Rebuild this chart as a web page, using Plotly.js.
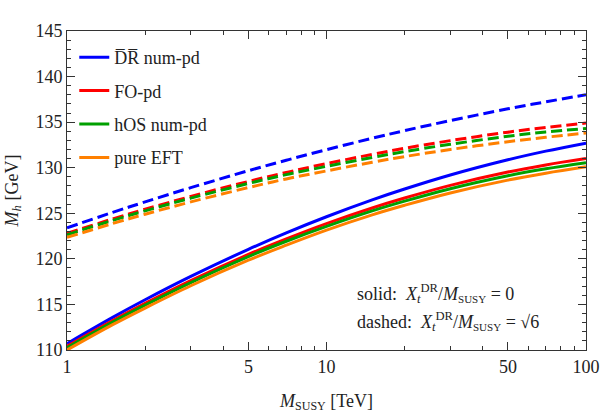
<!DOCTYPE html>
<html>
<head>
<meta charset="utf-8">
<script src="https://cdn.plot.ly/plotly-3.0.1.min.js"></script>
<style>html,body{margin:0;padding:0;background:#fff;}#chart{width:600px;height:417px;}</style>
</head>
<body>
<div id="chart"></div>
<script>
// M_SUSY in TeV
var msusy = [1, 1.5, 2, 3, 5, 7, 10, 15, 20, 30, 50, 70, 100];

// Solid: X_t/M_SUSY = 0
var drSolid  = [110.7, 113.58, 115.51, 118.07, 121.05, 122.85, 124.62, 126.47, 127.66, 129.2, 130.87, 131.82, 132.7];
var foSolid  = [110.4, 113.23, 115.11, 117.61, 120.48, 122.18, 123.86, 125.58, 126.67, 128.06, 129.52, 130.3, 131.0];
var hosSolid = [110.25, 113.06, 114.92, 117.4, 120.25, 121.93, 123.56, 125.26, 126.33, 127.7, 129.12, 129.88, 130.55];
var eftSolid = [110.0, 112.78, 114.6, 117.05, 119.85, 121.5, 123.15, 124.83, 125.88, 127.23, 128.64, 129.4, 130.1];

// Dashed: X_t/M_SUSY = sqrt(6)
var drDashed  = [123.4, 125.1, 126.25, 127.81, 129.67, 130.82, 131.98, 133.23, 134.07, 135.17, 136.46, 137.23, 138.0];
var foDashed  = [122.8, 124.38, 125.44, 126.85, 128.49, 129.48, 130.45, 131.46, 132.13, 132.97, 133.9, 134.42, 134.9];
var hosDashed = [122.65, 124.22, 125.27, 126.66, 128.27, 129.24, 130.15, 131.13, 131.77, 132.57, 133.45, 133.93, 134.3];
var eftDashed = [122.35, 123.88, 124.9, 126.25, 127.82, 128.77, 129.65, 130.6, 131.22, 132.0, 132.85, 133.34, 133.8];

var names = ["D\u0305R\u0305 num-pd", "FO-pd", "hOS num-pd", "pure EFT"];
var colors = ["#0000ff", "#ff0000", "#00a000", "#ff8000"];
var solids = [drSolid, foSolid, hosSolid, eftSolid];
var dashes = [drDashed, foDashed, hosDashed, eftDashed];

var xTickVals = [1, 5, 10, 50, 100];
var xTickText = ["1", "5", "10", "50", "100"];
var xMinor = [2, 3, 4, 6, 7, 8, 9, 20, 30, 40, 60, 70, 80, 90];

var font = "'Liberation Serif', 'DejaVu Serif', serif";
var traces = [];
for (var i = 0; i < 4; i++) {
  traces.push({
    x: msusy, y: dashes[i], type: "scatter", mode: "lines",
    line: {color: colors[i], width: 3, dash: "11px,5px", shape: "spline"},
    showlegend: false, hoverinfo: "skip"
  });
}
for (var i = 0; i < 4; i++) {
  traces.push({
    x: msusy, y: solids[i], type: "scatter", mode: "lines", name: names[i],
    legendgroup: "g" + i,
    line: {color: colors[i], width: 3, shape: "spline"}
  });
}

var axisCommon = {
  showline: true, linecolor: "#333", linewidth: 1, mirror: "ticks",
  ticks: "inside", ticklen: 8, tickcolor: "#333", showgrid: false, zeroline: false,
  tickfont: {family: font, size: 18, color: "#222"}
};

var layout = {
  width: 600, height: 417,
  margin: {l: 67, r: 14, t: 31, b: 67},
  paper_bgcolor: "#fff", plot_bgcolor: "#fff",
  font: {family: font, size: 18, color: "#222"},
  xaxis: Object.assign({}, axisCommon, {
    type: "log", range: [0, 2], tickvals: xTickVals, ticktext: xTickText,
    minor: {tickvals: xMinor, ticklen: 4, tickcolor: "#333", ticks: "inside"},
    title: {text: "<i>M</i><sub><span style='font-size:12px'>SUSY</span></sub> [TeV]", font: {family: font, size: 18, color: "#222"}, standoff: 18}
  }),
  yaxis: Object.assign({}, axisCommon, {
    range: [110, 145], tickvals: [110, 115, 120, 125, 130, 135, 140, 145],
    minor: {dtick: 1, ticklen: 4, tickcolor: "#333", ticks: "inside"},
    title: {text: "<i>M<sub>h</sub></i> [GeV]", font: {family: font, size: 18, color: "#222"}, standoff: 12}
  }),
  legend: {
    x: 0.014, y: 0.975, xanchor: "left", yanchor: "top",
    bgcolor: "rgba(0,0,0,0)", borderwidth: 0,
    font: {family: font, size: 18, color: "#222"},
    tracegroupgap: 7, itemwidth: 30
  },
  annotations: [
    {xref: "paper", yref: "paper", x: 0.5545, y: 0.178, xanchor: "left", yanchor: "middle", showarrow: false,
     text: "solid:  <i>X</i><sub><i>t</i></sub><sup>DR</sup>/<i>M</i><sub><span style='font-size:11px'>SUSY</span></sub> = 0",
     font: {family: font, size: 18, color: "#222"}},
    {xref: "paper", yref: "paper", x: 0.5545, y: 0.088, xanchor: "left", yanchor: "middle", showarrow: false,
     text: "dashed:  <i>X</i><sub><i>t</i></sub><sup>DR</sup>/<i>M</i><sub><span style='font-size:11px'>SUSY</span></sub> = \u221A6",
     font: {family: font, size: 18, color: "#222"}}
  ]
};

Plotly.newPlot("chart", traces, layout, {displayModeBar: false, staticPlot: true});
</script>
</body>
</html>
